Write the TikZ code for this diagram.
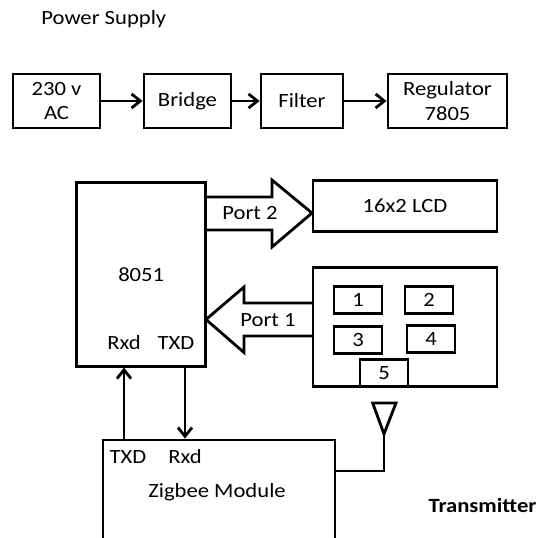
\documentclass[tikz,border=0pt]{standalone}
\usepackage{fontspec}
\setmainfont{Carlito}[FakeStretch=1.12]
\usetikzlibrary{calc, positioning}
\usetikzlibrary{arrows.meta}

\begin{document}
\begin{tikzpicture}[x=0.02cm, y=-0.02cm, line width=1.6pt,
  font=\fontsize{11.5}{13.8}\selectfont,
  box/.style 2 args={draw, minimum width=#1*0.02cm, minimum height=#2*0.02cm, align=center, inner sep=0pt},
  sig/.style={-{Straight Barb[length=5pt, width=8pt]}}]
\useasboundingbox (0,0) rectangle (538,538);
\clip (0,0) rectangle (538,538);

\node[anchor=base west, inner sep=0pt] (title) at (40,24) {Power Supply};

\node[box={87}{54}] (ac) at (56.5,101) {230 v\\AC};
\node[box={87}{54}] (bridge) at (187.5,101) {Bridge};
\node[box={82}{54}] (filter) at (302,101) {Filter};
\node[box={119}{54}] (reg) at (447.5,101) {Regulator\\7805};

\draw[sig] (ac) -- (bridge);
\draw[sig] (bridge) -- (filter);
\draw[sig] (filter) -- (reg);

\node[box={129}{184}] (mcu) at (141.2,274.2) {8051};
\node (mrxd) at (124,343) {Rxd};
\node (mtxd) at (176,343) {TXD};

\node[box={184}{51}] (lcd) at (405,206) {16x2 LCD};
\node[box={184}{119}] (kpd) at (405,327) {};
\foreach \n/\x/\y in {1/358/300, 2/429/300, 3/358/340, 4/431/339, 5/384/373}
  \node[box={48}{27}] (k\n) at (\x,\y) {\n};

\draw (206,197) -- (272,197) -- (272,180) -- (312,213) -- (272,247) -- (272,230) -- (206,230);
\node (p2) at (250,213) {Port 2};
\draw (313,303) -- (244,303) -- (244,287) -- (206,319.5) -- (244,352.5) -- (244,336) -- (313,336);
\node (p1) at (268,320) {Port 1};

\node[box={232}{104}] (zig) at (219,492) {};
\node (ztxd) at (128,457) {TXD};
\node (zrxd) at (185,457) {Rxd};
\node (zlab) at (217,492) {Zigbee Module};

\draw[sig] (zig.north -| mrxd) -- (mcu.south -| mrxd);
\draw[sig] (mcu.south -| zrxd) -- (zig.north -| zrxd);

\coordinate (ant) at (384,434);
\coordinate (feed) at (384,471);
\draw (372.7,403) -- (396,403) -- (ant) -- cycle;
\draw (ant) -- (feed) -- (feed -| zig.east);

\node (tx) at (482.5,505) {\bfseries Transmitter};
\end{tikzpicture}
\end{document}
